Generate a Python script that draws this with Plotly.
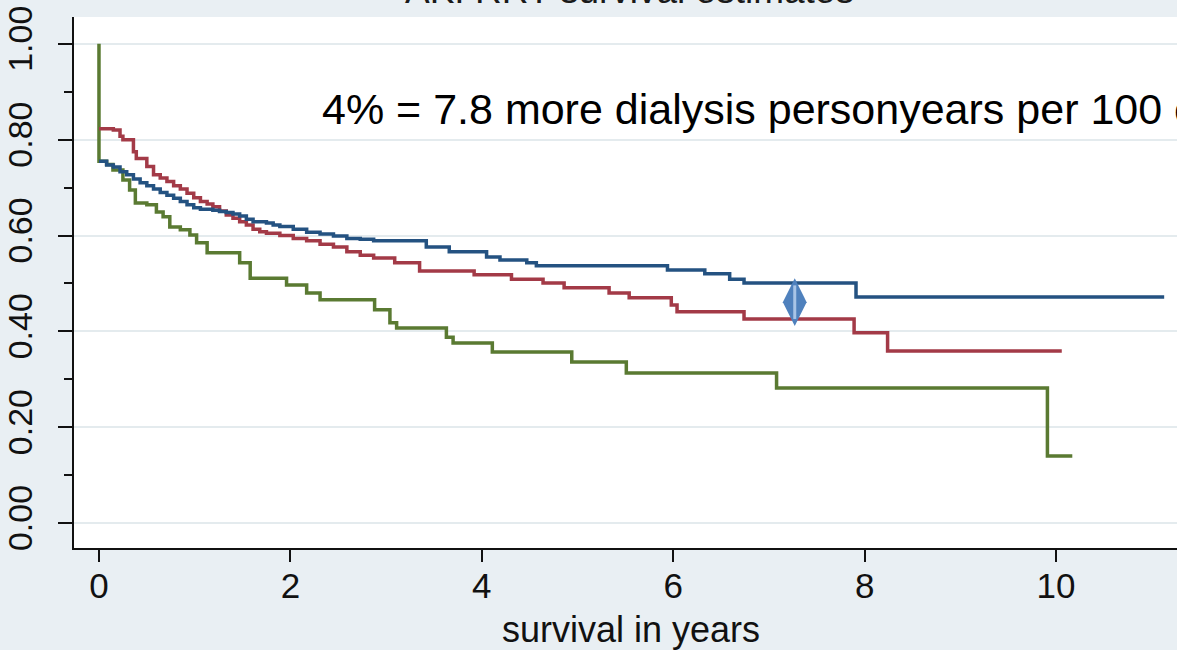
import plotly.graph_objects as go

# ---- data ----
blue_t = [0.0, 0.08, 0.15, 0.22, 0.29, 0.36, 0.43, 0.50, 0.57, 0.64, 0.71, 0.78, 0.85, 0.92, 0.99,
          1.06, 1.19, 1.26, 1.33, 1.40, 1.47, 1.54, 1.61, 1.75, 1.82, 1.89, 2.03, 2.17, 2.31, 2.45,
          2.59, 2.73, 2.87, 3.42, 3.66, 4.05, 4.19, 4.47, 4.57, 5.94, 6.33, 6.59, 6.74, 7.91, 11.13]
blue_s = [0.755, 0.747, 0.743, 0.733, 0.727, 0.718, 0.710, 0.704, 0.697, 0.690, 0.684, 0.678, 0.671,
          0.664, 0.658, 0.655, 0.653, 0.650, 0.648, 0.645, 0.641, 0.634, 0.629, 0.626, 0.622, 0.619,
          0.613, 0.607, 0.603, 0.599, 0.594, 0.592, 0.589, 0.576, 0.566, 0.555, 0.549, 0.543, 0.537,
          0.528, 0.520, 0.509, 0.501, 0.472, 0.472]

red_t = [0.0, 0.15, 0.22, 0.25, 0.36, 0.39, 0.50, 0.57, 0.64, 0.71, 0.78, 0.85, 0.92, 0.99, 1.06,
         1.13, 1.19, 1.26, 1.33, 1.40, 1.47, 1.54, 1.61, 1.68, 1.75, 1.89, 2.03, 2.17, 2.31, 2.45,
         2.59, 2.73, 2.87, 3.09, 3.35, 3.92, 4.31, 4.64, 4.86, 5.33, 5.54, 5.98, 6.04, 6.74, 7.89,
         8.24, 10.06]
red_s = [0.823, 0.820, 0.807, 0.800, 0.775, 0.761, 0.744, 0.727, 0.720, 0.713, 0.704, 0.697, 0.688,
         0.679, 0.671, 0.666, 0.660, 0.651, 0.643, 0.636, 0.629, 0.622, 0.613, 0.608, 0.605, 0.600,
         0.594, 0.589, 0.582, 0.576, 0.566, 0.559, 0.553, 0.543, 0.526, 0.518, 0.509, 0.501, 0.491,
         0.480, 0.470, 0.455, 0.441, 0.426, 0.397, 0.359, 0.359]

green_t = [0.0, 0.0, 0.08, 0.146, 0.25, 0.32, 0.38, 0.50, 0.60, 0.67, 0.74, 0.85, 0.95, 1.02, 1.13,
           1.47, 1.58, 1.96, 2.17, 2.31, 2.88, 3.04, 3.11, 3.63, 3.70, 4.11, 4.94, 5.51, 7.08, 9.91, 10.17]
green_s = [1.0, 0.755, 0.748, 0.737, 0.716, 0.695, 0.668, 0.664, 0.649, 0.639, 0.618, 0.612, 0.601,
           0.585, 0.564, 0.543, 0.511, 0.497, 0.480, 0.466, 0.445, 0.418, 0.407, 0.388, 0.376, 0.357,
           0.336, 0.313, 0.282, 0.140, 0.140]

marker_t = [7.27]
marker_s = [0.461]

x_ticks = [0, 2, 4, 6, 8, 10]
y_ticks = [0.0, 0.2, 0.4, 0.6, 0.8, 1.0]
y_ticklabels = ["0.00", "0.20", "0.40", "0.60", "0.80", "1.00"]
y_minor = [0.1, 0.3, 0.5, 0.7, 0.9]

title_text = "AKI RRT survival estimates"
note_text = "4% = 7.8 more dialysis personyears per 100 cases"
x_title = "survival in years"

BG = "#E9EFF3"
FONT = "Liberation Sans, Arial, Helvetica, sans-serif"

fig = go.Figure()
fig.add_trace(go.Scatter(x=green_t, y=green_s, mode="lines", line=dict(color="#5A7A32", width=3.5, shape="hv"), showlegend=False))
fig.add_trace(go.Scatter(x=red_t, y=red_s, mode="lines", line=dict(color="#A33A47", width=3.5, shape="hv"), showlegend=False))
fig.add_trace(go.Scatter(x=blue_t, y=blue_s, mode="lines", line=dict(color="#245281", width=3.5, shape="hv"), showlegend=False))
fig.add_trace(go.Scatter(x=marker_t, y=marker_s, mode="markers",
                         marker=dict(symbol="diamond-tall", size=34, color="#4F81BD", line=dict(width=0)), showlegend=False))
fig.add_trace(go.Scatter(x=marker_t, y=marker_s, mode="markers",
                         marker=dict(symbol="line-ns", size=24, line=dict(width=3, color="#A8C4E6")), showlegend=False))

fig.update_layout(
    width=1177, height=650,
    margin=dict(l=74, r=0, t=17, b=102),
    paper_bgcolor=BG, plot_bgcolor="white",
    font=dict(family=FONT, color="#111111"),
    xaxis=dict(range=[-0.261, 11.264], tickvals=x_ticks, ticks="outside", ticklen=12, tickwidth=2,
               tickcolor="#111", showline=True, linecolor="#111", linewidth=2, showgrid=False,
               zeroline=False, tickfont=dict(size=35, family=FONT, color="#111"), ticklabelstandoff=-6,
               automargin=False),
    yaxis=dict(range=[-0.052, 1.056], tickvals=y_ticks, ticktext=y_ticklabels, ticks="outside",
               ticklen=14, tickwidth=2, tickcolor="#111", showline=True, linecolor="#111", linewidth=2,
               showgrid=True, gridcolor="#E4EBEE", gridwidth=2, zeroline=False, tickangle=-90,
               tickfont=dict(size=34, family=FONT, color="#111"), ticklabelstandoff=12, automargin=False,
               minor=dict(tickvals=y_minor, ticks="outside", ticklen=8, tickwidth=2,
                          tickcolor="#111", showgrid=False)),
    annotations=[
        dict(text=note_text, xref="paper", yref="paper", x=(320 - 74) / 1103, y=(548 - 109) / 531,
             xanchor="left", yanchor="middle", showarrow=False, font=dict(size=43, family=FONT, color="#000")),
        dict(text=x_title, xref="paper", yref="paper", x=(631 - 74) / 1103, y=(548 - 629) / 531,
             xanchor="center", yanchor="middle", showarrow=False, font=dict(size=36, family=FONT, color="#111")),
        dict(text=title_text, xref="paper", yref="paper", x=(629 - 74) / 1103, y=1,
             xanchor="center", yanchor="bottom", yshift=4, showarrow=False,
             font=dict(size=37, family=FONT, color="#1A1A1A")),
    ],
)

fig.write_html("out.html")
